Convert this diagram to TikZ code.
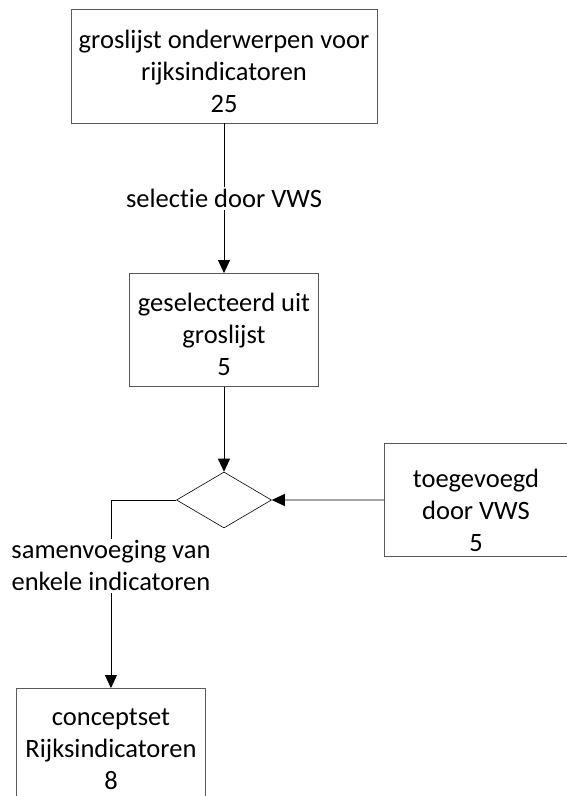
\documentclass[tikz,border=0pt]{standalone}
\usepackage{fontspec}
\setmainfont{Carlito}[Ligatures=NoCommon]
\usetikzlibrary{arrows.meta,shapes.geometric}
\begin{document}
\begin{tikzpicture}[x=1pt,y=-1pt,
  box/.style={draw=black!65,line width=0.9pt,align=center,inner sep=0pt},
  lbl/.style={fill=white,align=center,inner sep=2pt},
  conn/.style={line width=0.8pt,-{Triangle[length=13pt,width=12pt]}},
  every node/.style={font=\fontsize{26.5}{32}\selectfont}]
\useasboundingbox (0,0) rectangle (566,796);
\node[box,minimum width=306pt,minimum height=114pt] (top) at (224,66) {};
\node[align=center] (topt) at (224,71) {groslijst onderwerpen voor\\rijksindicatoren\\25};
\node[box,minimum width=189pt,minimum height=113pt] (sel) at (224,330) {};
\node[align=center] (selt) at (224,334) {geselecteerd uit\\groslijst\\5};
\node[draw,diamond,line width=0.6pt,minimum width=95pt,minimum height=56pt,inner sep=0pt,aspect=1.7] (dia) at (224,500) {};
\node[box,minimum width=200pt,minimum height=113pt,anchor=north west] (add) at (384,443) {};
\node[align=center] (addt) at (476,510) {toegevoegd\\door VWS\\5};
\node[box,minimum width=189pt,minimum height=113pt,anchor=north west] (bot) at (16,688) {};
\node[align=center] (bott) at (111,749) {conceptset\\Rijksindicatoren\\8};
\draw[conn] (top.south) -- (sel.north) node[lbl,midway] (l1) {selectie door VWS};
\draw[conn] (sel.south) -- (dia.north);
\draw[conn] (add.west) -- (dia.east);
\draw[conn] (dia.west) -| (bot.north) node[lbl,pos=0.675] (l2) {samenvoeging van\\enkele indicatoren};
\end{tikzpicture}
\end{document}
